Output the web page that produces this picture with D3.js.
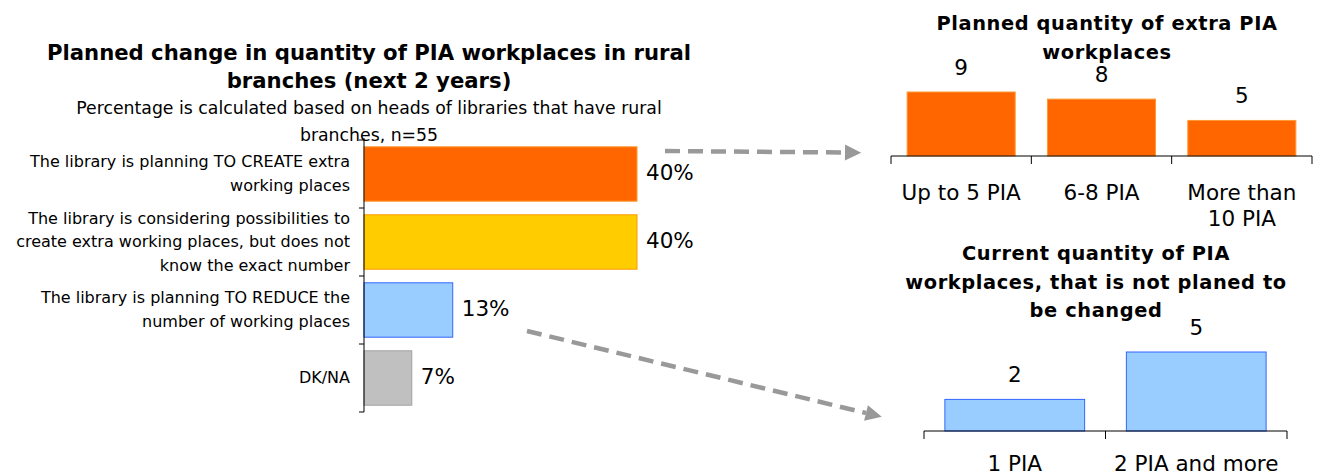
<!DOCTYPE html>
<html>
<head>
<meta charset="utf-8">
<script src="https://cdn.jsdelivr.net/npm/d3@7"></script>
<style>
  html, body { margin: 0; padding: 0; background: #fff; }
  svg { display: block; }
  text { font-family: "DejaVu Sans", sans-serif; fill: #000; }
  .title { font-weight: bold; }
</style>
</head>
<body>
<svg id="chart" width="1319" height="475"></svg>
<script>
// ---- data ----
const changeCategories = [
  ["The library is planning TO CREATE extra", "working places"],
  ["The library is considering possibilities to", "create extra working places, but does not", "know the exact number"],
  ["The library is planning TO REDUCE the", "number of working places"],
  ["DK/NA"]
];
const changeValues = [40, 40, 13, 7];
const changeLabels = ["40%", "40%", "13%", "7%"];
const changeFill = ["#FF6600", "#FFCC00", "#99CCFF", "#C0C0C0"];
const changeStroke = ["#FF9933", "#FF9900", "#3366FF", "#A0A0A0"];

const extraCategories = [["Up to 5 PIA"], ["6-8 PIA"], ["More than", "10 PIA"]];
const extraValues = [9, 8, 5];

const currentCategories = [["1 PIA"], ["2 PIA and more"]];
const currentValues = [2, 5];

const svg = d3.select("#chart");

// ---- left: planned change (horizontal bars) ----
const leftTitle = ["Planned change in quantity of PIA workplaces in rural", "branches (next 2 years)"];
const leftSub = ["Percentage is calculated based on heads of libraries that have rural", "branches, n=55"];
svg.append("g").selectAll("text").data(leftTitle).join("text")
  .attr("class", "title").attr("x", 369).attr("y", (d, i) => 60 + i * 28)
  .attr("text-anchor", "middle").style("font-size", "21.2px").text(d => d);
svg.append("g").selectAll("text").data(leftSub).join("text")
  .attr("x", 369).attr("y", (d, i) => 114 + i * 27)
  .attr("text-anchor", "middle").style("font-size", "17.3px").text(d => d);

const xL = d3.scaleLinear().domain([0, 40]).range([364, 637]);
const yL = d3.scaleBand().domain(d3.range(changeValues.length)).range([140, 412])
  .paddingInner(0.2).paddingOuter(0.1);

const gL = svg.append("g");
gL.selectAll("rect").data(changeValues).join("rect")
  .attr("x", xL(0)).attr("y", (d, i) => yL(i))
  .attr("width", d => xL(d) - xL(0)).attr("height", yL.bandwidth())
  .attr("fill", (d, i) => changeFill[i]).attr("stroke", (d, i) => changeStroke[i]).attr("stroke-width", 1);

gL.selectAll("text.val").data(changeValues).join("text").attr("class", "val")
  .attr("x", d => xL(d) + 9).attr("y", (d, i) => yL(i) + yL.bandwidth() / 2 + 6)
  .style("font-size", "21.5px").text((d, i) => changeLabels[i]);

// category labels, centered on each bar
changeCategories.forEach((lines, i) => {
  const cy = yL(i) + yL.bandwidth() / 2;
  const lh = 23.5;
  const t = gL.append("text").attr("text-anchor", "end").style("font-size", "16px");
  lines.forEach((ln, j) => {
    t.append("tspan").attr("x", 350)
      .attr("y", cy + (j - (lines.length - 1) / 2) * lh + 5).text(ln);
  });
});

// vertical axis with ticks on category boundaries
const step = yL.step();
gL.append("line").attr("x1", 364).attr("x2", 364)
  .attr("y1", 138).attr("y2", 412).attr("stroke", "#000");
gL.selectAll("line.tk").data(d3.range(changeValues.length + 1)).join("line").attr("class", "tk")
  .attr("x1", 359).attr("x2", 364)
  .attr("y1", i => 140 + i * step).attr("y2", i => 140 + i * step)
  .attr("stroke", "#000");

// ---- generic vertical bar chart ----
function columnChart(opts) {
  const g = svg.append("g");
  const x = d3.scaleBand().domain(d3.range(opts.values.length)).range(opts.xRange).padding(0);
  const y = d3.scaleLinear().domain([0, opts.yMax]).range([opts.base, opts.yTopPx]);
  const inset = x.bandwidth() * opts.inset;

  g.selectAll("rect").data(opts.values).join("rect")
    .attr("x", (d, i) => x(i) + inset).attr("y", d => y(d))
    .attr("width", x.bandwidth() - 2 * inset).attr("height", d => y(0) - y(d))
    .attr("fill", opts.fill).attr("stroke", opts.stroke).attr("stroke-width", 1);

  g.selectAll("text.val").data(opts.values).join("text").attr("class", "val")
    .attr("x", (d, i) => x(i) + x.bandwidth() / 2).attr("y", d => y(d) - 17)
    .attr("text-anchor", "middle").style("font-size", "21.5px").text(d => d);

  // baseline with ticks at band edges
  g.append("line").attr("x1", opts.xRange[0]).attr("x2", opts.xRange[1])
    .attr("y1", opts.base).attr("y2", opts.base).attr("stroke", "#000");
  const edges = d3.range(opts.values.length + 1).map(i => opts.xRange[0] + i * x.step());
  g.selectAll("line.tk").data(edges).join("line").attr("class", "tk")
    .attr("x1", d => d).attr("x2", d => d)
    .attr("y1", opts.base).attr("y2", opts.base + 8).attr("stroke", "#000");

  opts.categories.forEach((lines, i) => {
    const t = g.append("text").attr("text-anchor", "middle").style("font-size", "21.5px");
    lines.forEach((ln, j) => {
      t.append("tspan").attr("x", x(i) + x.bandwidth() / 2)
        .attr("y", opts.catY + j * 26).text(ln);
    });
  });

  g.selectAll("text.ttl").data(opts.title).join("text").attr("class", "title ttl")
    .attr("x", opts.titleX).attr("y", (d, i) => opts.titleY + i * opts.titleLH)
    .attr("text-anchor", "middle").style("font-size", "19.4px").style("letter-spacing", "0.6px")
    .text(d => d);
}

columnChart({
  values: extraValues, categories: extraCategories,
  xRange: [891, 1312], base: 156, yMax: 9, yTopPx: 92, inset: 0.115,
  fill: "#FF6600", stroke: "#FF9933", catY: 200,
  title: ["Planned quantity of extra PIA", "workplaces"], titleX: 1107, titleY: 30, titleLH: 29
});

columnChart({
  values: currentValues, categories: currentCategories,
  xRange: [924, 1287], base: 431, yMax: 5, yTopPx: 352, inset: 0.115,
  fill: "#99CCFF", stroke: "#3366FF", catY: 471,
  title: ["Current quantity of PIA", "workplaces, that is not planed to", "be changed"],
  titleX: 1096, titleY: 260, titleLH: 28.5
});

// ---- dashed connector arrows ----
const defs = svg.append("defs");
defs.append("marker").attr("id", "head").attr("viewBox", "0 0 10 10")
  .attr("refX", 0).attr("refY", 5).attr("markerWidth", 4.2).attr("markerHeight", 3.6)
  .attr("markerUnits", "strokeWidth").attr("orient", "auto")
  .append("path").attr("d", "M0,0L10,5L0,10Z").attr("fill", "#999999");

const arrows = [
  [[665, 151], [845, 152.5]],
  [[527, 331], [866, 413]]
];
svg.append("g").selectAll("line").data(arrows).join("line")
  .attr("x1", d => d[0][0]).attr("y1", d => d[0][1])
  .attr("x2", d => d[1][0]).attr("y2", d => d[1][1])
  .attr("stroke", "#999999").attr("stroke-width", 4.5)
  .attr("stroke-dasharray", "15,8").attr("marker-end", "url(#head)");
</script>
</body>
</html>
